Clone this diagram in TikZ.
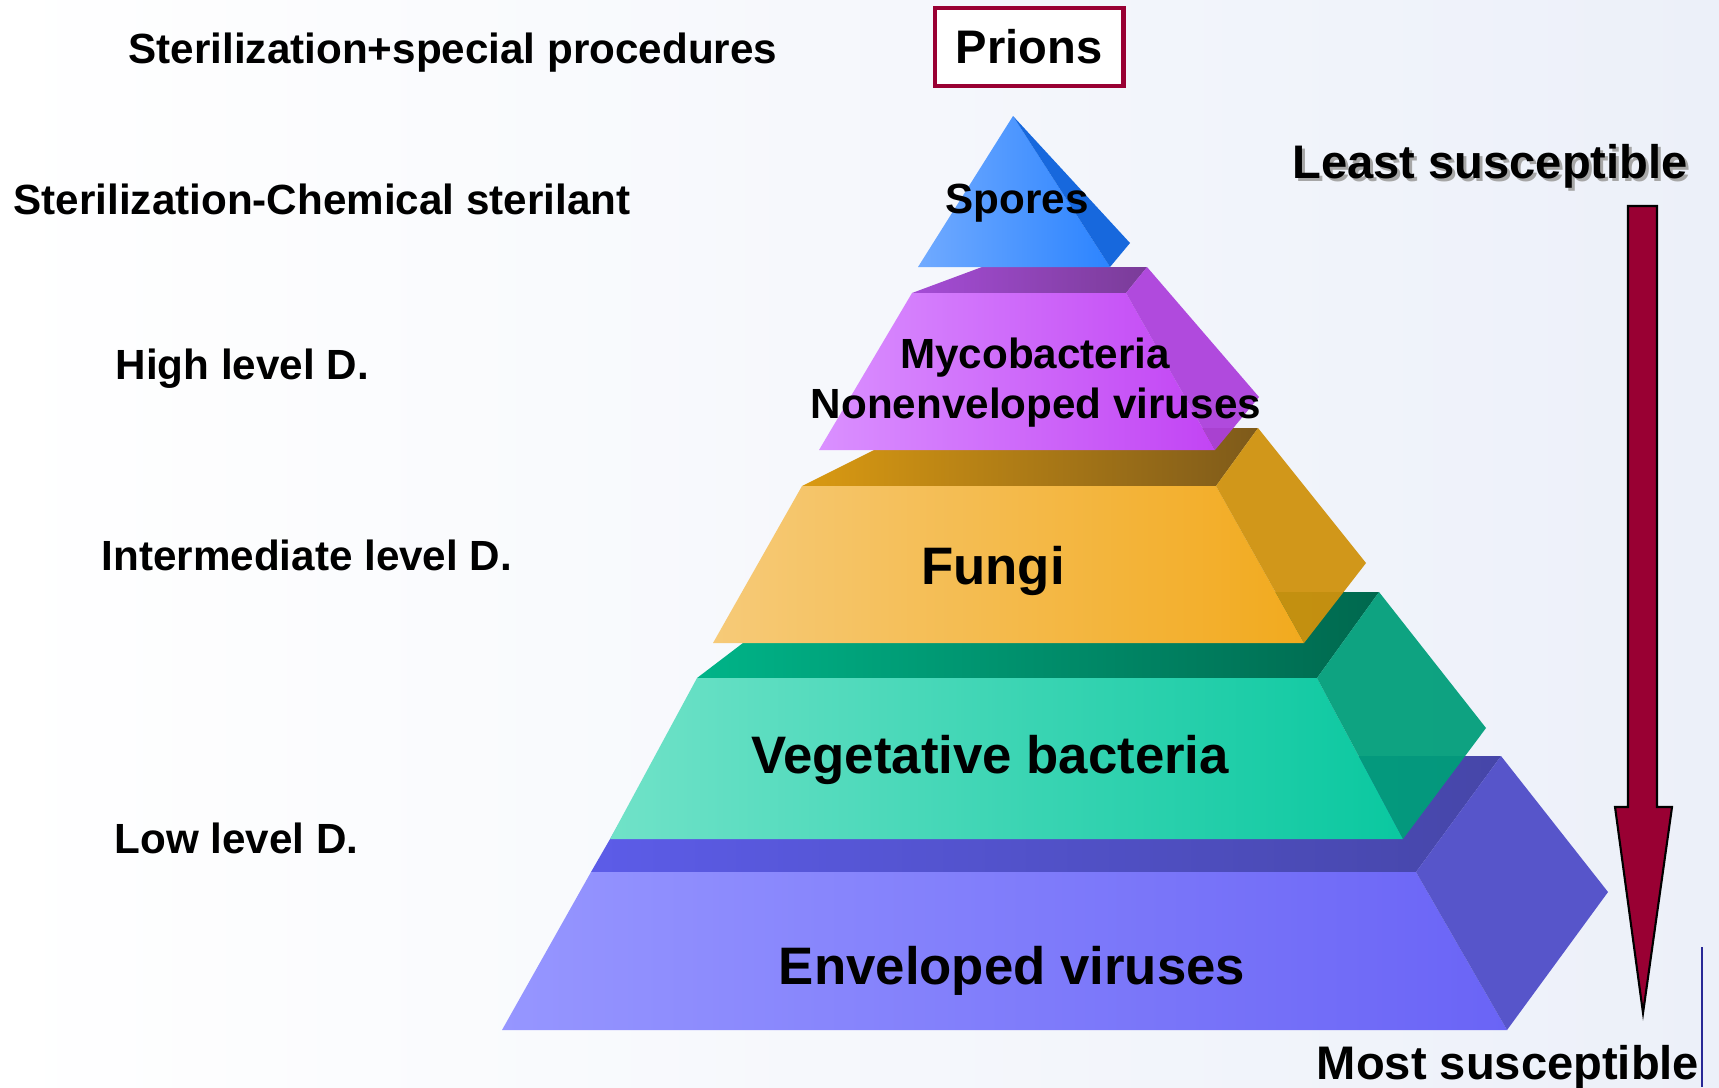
\documentclass[tikz,border=0pt]{standalone}
\usepackage{fontspec}
\setmainfont{Liberation Sans}
\usepackage{xcolor}
\usepackage{tikz}
\usetikzlibrary{positioning}
\definecolor{Maroon}{HTML}{990033}
\definecolor{BgBlue}{HTML}{ECF0F9}
\definecolor{IndFL}{HTML}{9696FF}
\definecolor{IndFR}{HTML}{6A64F6}
\definecolor{IndTL}{HTML}{5C5CE8}
\definecolor{IndTR}{HTML}{4646A8}
\definecolor{IndS}{HTML}{4E4CC8}
\definecolor{GrnFL}{HTML}{70E2C8}
\definecolor{GrnFR}{HTML}{0AC8A0}
\definecolor{GrnTL}{HTML}{00B488}
\definecolor{GrnTR}{HTML}{00684E}
\definecolor{GrnS}{HTML}{009E7A}
\definecolor{OrgFL}{HTML}{F6CA78}
\definecolor{OrgFR}{HTML}{F2AA1E}
\definecolor{OrgTL}{HTML}{DA9A12}
\definecolor{OrgTR}{HTML}{7E5A1A}
\definecolor{OrgS}{HTML}{D0920C}
\definecolor{PurFL}{HTML}{DA90FF}
\definecolor{PurFR}{HTML}{C244F4}
\definecolor{PurTL}{HTML}{A54CD6}
\definecolor{PurTR}{HTML}{7A3C98}
\definecolor{PurS}{HTML}{AC40DC}
\definecolor{SpoFL}{HTML}{70AAFF}
\definecolor{SpoFR}{HTML}{2C84FF}
\definecolor{SpoS}{HTML}{0A60DC}

\begin{document}
\begin{tikzpicture}[
    x=0.01cm, y=-0.01cm,
    level/.style={font=\fontsize{12}{14}\selectfont\bfseries, anchor=base west, inner sep=0pt},
    germ/.style={font=\fontsize{12}{14}\selectfont\bfseries, anchor=base, inner sep=0pt},
    biggerm/.style={font=\fontsize{15}{18}\selectfont\bfseries, anchor=base, inner sep=0pt},
    susc/.style={font=\fontsize{13.4}{16}\selectfont\bfseries, anchor=base, inner sep=0pt},
    sideface/.style={fill opacity=0.94},
    blockarr/.style={fill=Maroon, draw=black, line width=0.6pt}
]
\useasboundingbox (0,0) rectangle (1719,1087);
\shade[left color=white, right color=BgBlue] (0,0) rectangle (1719,1087);

% bottom layer
\shade[left color=IndTL, right color=IndTR] (658,756) -- (1501,756) -- (1416,872) -- (591,872) -- cycle;
\shade[left color=IndFL, right color=IndFR] (591,872) -- (1416,872) -- (1507,1030) -- (502,1030) -- cycle;
\fill[IndS, sideface] (1416,872) -- (1501,756) -- (1608,892) -- (1507,1030) -- cycle;

\shade[left color=GrnTL, right color=GrnTR] (810,592) -- (1379,592) -- (1317,678) -- (697,678) -- cycle;
\shade[left color=GrnFL, right color=GrnFR] (697,678) -- (1317,678) -- (1403,839) -- (610,839) -- cycle;
\fill[GrnS, sideface] (1317,678) -- (1379,592) -- (1486,728) -- (1403,839) -- cycle;

\shade[left color=OrgTL, right color=OrgTR] (918,428) -- (1258,428) -- (1216,486) -- (802,486) -- cycle;
\shade[left color=OrgFL, right color=OrgFR] (802,486) -- (1216,486) -- (1304,643) -- (713,643) -- cycle;
\fill[OrgS, sideface] (1216,486) -- (1258,428) -- (1366,563) -- (1304,643) -- cycle;

\shade[left color=PurTL, right color=PurTR] (982,267) -- (1147,267) -- (1126,293) -- (912,293) -- cycle;
\shade[left color=PurFL, right color=PurFR] (912,293) -- (1126,293) -- (1215,450) -- (819,450) -- cycle;
\fill[PurS, sideface] (1126,293) -- (1147,267) -- (1259,397) -- (1215,450) -- cycle;

% top
\shade[left color=SpoFL, right color=SpoFR] (1013,116) -- (1110,267) -- (918,267) -- cycle;
\fill[SpoS, sideface] (1013,116) -- (1130,243) -- (1110,267) -- cycle;

% labels inside the pyramid
\node[germ] (spores) at (1017,213) {Spores};
\node[germ] (myco) at (1035,368) {Mycobacteria};
\node[germ] (nonenv) at (1036,418) {Nonenveloped viruses};
\node[biggerm] (fungi) at (993,584) {Fungi};
\node[biggerm] (veg) at (990,773) {Vegetative bacteria};
\node[biggerm] (env) at (1012,984) {Enveloped viruses};

% disinfection levels
\node[level] (steril) at (128,63) {Sterilization+special procedures};
\node[level] (chem) at (13,214) {Sterilization-Chemical sterilant};
\node[level] (high) at (115,379) {High level D.};
\node[level] (inter) at (101,570) {Intermediate level D.};
\node[level] (low) at (114,853) {Low level D.};

\node[draw=Maroon, line width=1.4pt, fill=white, minimum width=1.88cm, minimum height=0.78cm,
      font=\fontsize{13.4}{16}\selectfont\bfseries] (prions) at (1029,47) {Prions};

\node[susc, text=black!35] at (1493,181) {Least susceptible};
\node[susc] (least) at (1490,178) {Least susceptible};
\node[susc] (most) at (1508,1079) {Most susceptible};

\coordinate (atop) at (1642.5,206);
\coordinate (atip) at (1643,1013);
\draw[blockarr] (atop) ++(-14.5,0) -- ++(29,0) -- ++(0,601) -- ++(15,0) -- (atip) -- ++(-28,-206) -- ++(13,0) -- cycle;

\draw[draw={rgb,255:red,40;green,40;blue,150}, line width=0.7pt] (1702,947) -- (1702,1087);
\end{tikzpicture}
\end{document}
